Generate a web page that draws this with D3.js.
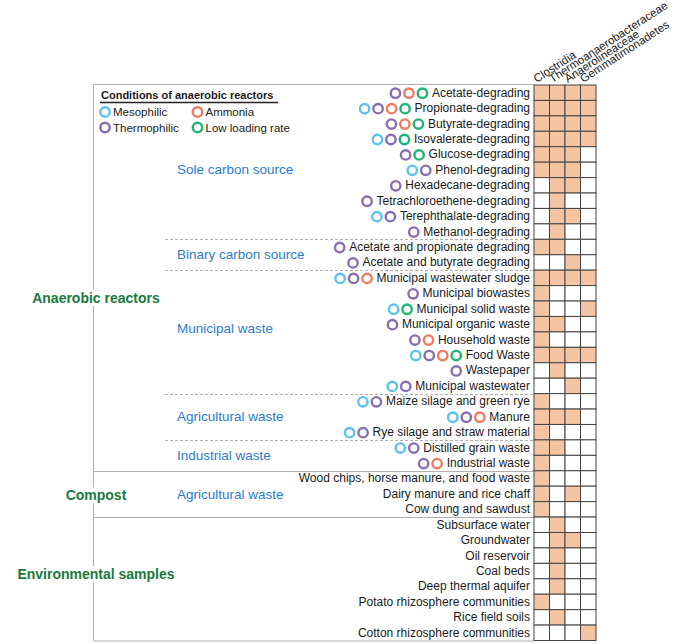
<!DOCTYPE html>
<html><head><meta charset="utf-8">
<script src="https://cdn.jsdelivr.net/npm/d3@7"></script>
<style>body{margin:0;background:#fff}svg{display:block;font-family:"Liberation Sans",Arial,sans-serif}</style>
</head><body><svg id="c" width="678" height="644"></svg>
<script>
const taxa = ["Clostridia","Thermoanaerobacteraceae","Anaerolineaceae","Gemmatimonadetes"];
const rows = ["Acetate-degrading","Propionate-degrading","Butyrate-degrading","Isovalerate-degrading","Glucose-degrading","Phenol-degrading","Hexadecane-degrading","Tetrachloroethene-degrading","Terephthalate-degrading","Methanol-degrading","Acetate and propionate degrading","Acetate and butyrate degrading","Municipal wastewater sludge","Municipal biowastes","Municipal solid waste","Municipal organic waste","Household waste","Food Waste","Wastepaper","Municipal wastewater","Maize silage and green rye","Manure","Rye silage and straw material","Distilled grain waste","Industrial waste","Wood chips, horse manure, and food waste","Dairy manure and rice chaff","Cow dung and sawdust","Subsurface water","Groundwater","Oil reservoir","Coal beds","Deep thermal aquifer","Potato rhizosphere  communities","Rice field soils","Cotton rhizosphere  communities"];
const presence = ["1111","1111","1111","1111","1110","1110","0110","0100","0110","0100","1100","0010","1111","1000","1001","1100","1000","1111","0100","0010","1000","1110","1000","1100","1000","1000","1010","1000","0100","0110","0100","0100","0100","1000","0100","0001"];
// conditions: M mesophilic, T thermophilic, A ammonia, L low loading rate
const conditions = ["TAL","MTAL","TAL","MTL","TL","MT","T","T","MT","T","T","T","MTA","T","ML","T","TA","MTAL","T","MT","MT","MTA","MT","MT","TA","","","","","","","","","","",""];
const condKeys = ["M","T","A","L"];
const condNames = ["Mesophilic","Thermophilic","Ammonia","Low loading rate"];
const groupNames = ["Anaerobic reactors","Compost","Environmental samples"];
const groupFirstRow = [0,25,28];
const subgroupNames = ["Sole carbon source","Binary carbon source","Municipal waste","Agricultural waste","Industrial waste","Agricultural waste"];
const subgroupFirstRow = [0,10,12,20,23,25];

// layout / style (not data)
const condColors = ["#5cc3ea","#8a6fb0","#f07a62","#1fb574"];
const groupLabelRow = [13.8,26.6,31.7];      // vertical label position in row units
const subgroupLabelRow = [5.45,11.0,15.75,21.5,24.0,26.55];

const svg = d3.select("#c");
const y = d3.scaleBand().domain(rows).range([85, 640.5]);
const x = d3.scaleBand().domain(taxa).range([534, 596]);
const yr = d3.scaleLinear().domain([0, rows.length]).range(y.range());
const col = d3.scaleOrdinal().domain(condKeys).range(condColors);
const gray = "#b0b0b0";
const xL = 93.5, xSub = 165, xR = 534;

// group frame
svg.append("line").attr("x1",xL).attr("x2",xL).attr("y1",84.5).attr("y2",y.range()[1]).attr("stroke",gray);
svg.append("line").attr("x1",xL).attr("x2",xR).attr("y1",84.5).attr("y2",84.5).attr("stroke",gray);
svg.append("line").attr("x1",xL).attr("x2",xR).attr("y1",y.range()[1]+0.5).attr("y2",y.range()[1]+0.5).attr("stroke",gray);
groupFirstRow.slice(1).forEach(r=>{
  const yy = Math.round(y(rows[r]))+0.5;
  svg.append("line").attr("x1",xL).attr("x2",xR).attr("y1",yy).attr("y2",yy).attr("stroke",gray);
});
subgroupFirstRow.forEach(r=>{
  if(groupFirstRow.includes(r)) return;
  const yy = Math.round(y(rows[r]))+0.5;
  svg.append("line").attr("x1",xSub).attr("x2",xR).attr("y1",yy).attr("y2",yy)
    .attr("stroke",gray).attr("stroke-dasharray","3,2");
});

// group labels
groupNames.forEach((g,i)=>{
  const t = svg.append("text").attr("x",96).attr("y",yr(groupLabelRow[i])).attr("text-anchor","middle")
    .attr("dominant-baseline","central").attr("font-size",14).attr("font-weight","bold")
    .attr("fill","#1a7a3c").text(g);
  const bb = t.node().getBBox();
  svg.insert("rect","text").attr("x",bb.x-2).attr("y",bb.y).attr("width",bb.width+4).attr("height",bb.height).attr("fill","#fff");
});
subgroupNames.forEach((s,i)=>{
  svg.append("text").attr("x",177).attr("y",yr(subgroupLabelRow[i])).attr("dominant-baseline","central")
    .attr("font-size",13.5).attr("fill","#2a7dcb").text(s);
});

// row labels and condition circles
rows.forEach((r,i)=>{
  const cy = y(r)+y.bandwidth()/2;
  const t = svg.append("text").attr("x",530).attr("y",cy).attr("text-anchor","end")
    .attr("dominant-baseline","central").attr("font-size",12).attr("fill","#1a1a1a").text(r);
  const w = t.node().getComputedTextLength();
  const conds = conditions[i].split("");
  conds.forEach((c,j)=>{
    const k = conds.length-1-j;
    svg.append("circle").attr("cx",530 - w - 9.5 - k*13.5).attr("cy",cy+0.5).attr("r",4.7)
      .attr("fill","none").attr("stroke",col(c)).attr("stroke-width",2.4);
  });
});

// grid cells
rows.forEach((r,i)=>{
  taxa.forEach((tx,j)=>{
    svg.append("rect").attr("x",x(tx)).attr("y",y(r)).attr("width",x.bandwidth()).attr("height",y.bandwidth())
      .attr("fill",presence[i][j]==="1"?"#f5c5a3":"#fff").attr("stroke","#444").attr("stroke-width",1);
  });
});

// column headers
taxa.forEach(tx=>{
  const px = x(tx)+x.bandwidth()/2 - 5, py = 83;
  svg.append("text").attr("transform",`translate(${px},${py}) rotate(-33)`)
    .attr("font-size",11.5).attr("fill","#1a1a1a").text(tx);
});

// legend
const lg = svg.append("g");
lg.append("text").attr("x",101).attr("y",99).attr("font-size",11).attr("font-weight","bold").attr("fill","#1a1a1a").text("Conditions of anaerobic reactors");
lg.append("line").attr("x1",100).attr("x2",278).attr("y1",102.5).attr("y2",102.5).attr("stroke","#222").attr("stroke-width",1.3);
const legPos = [[105,112],[105,127.5],[197.5,112],[197.5,127.5]];
condKeys.forEach((k,i)=>{
  lg.append("circle").attr("cx",legPos[i][0]).attr("cy",legPos[i][1]).attr("r",4.7).attr("fill","none").attr("stroke",col(k)).attr("stroke-width",2.4);
  lg.append("text").attr("x",legPos[i][0]+8).attr("y",legPos[i][1]).attr("dominant-baseline","central").attr("font-size",11.5).attr("fill","#1a1a1a").text(condNames[i]);
});
</script></body></html>
